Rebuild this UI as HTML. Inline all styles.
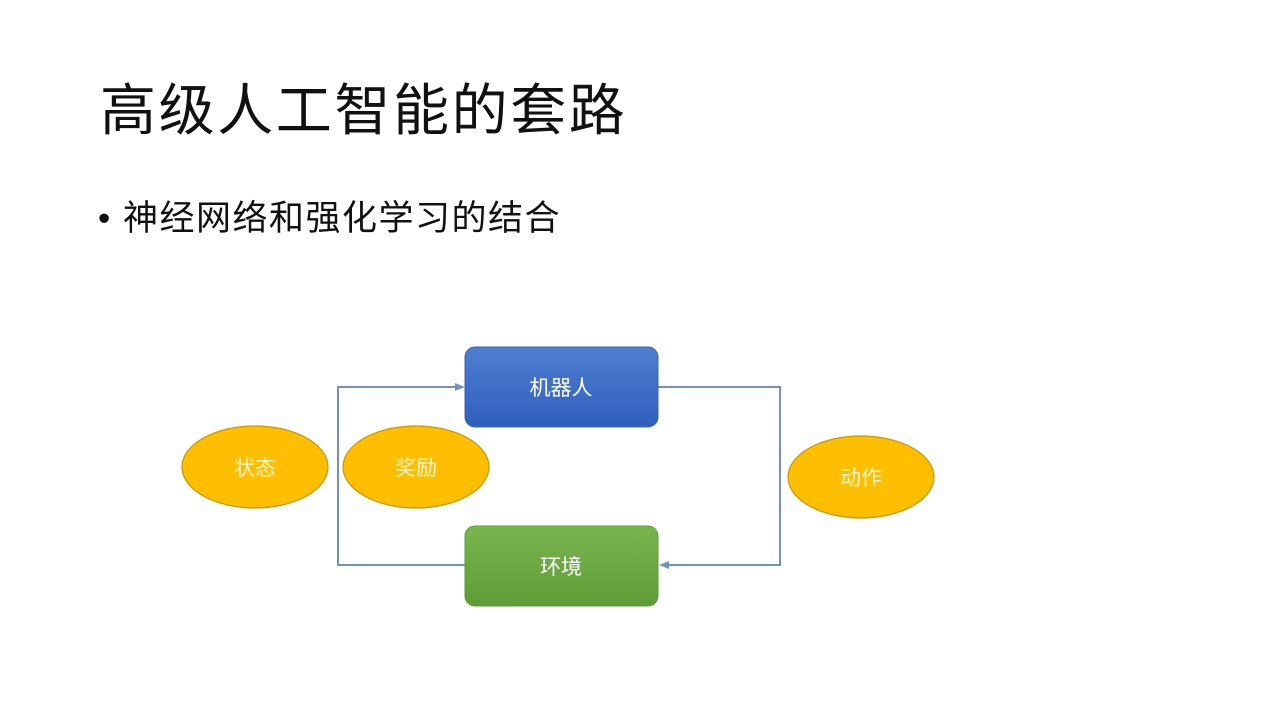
<!DOCTYPE html>
<html><head><meta charset="utf-8"><style>
body{margin:0;width:1280px;height:720px;background:#fff;overflow:hidden;position:relative;font-family:"Liberation Sans","Noto Sans CJK SC",sans-serif}
.t{position:absolute;left:100px;top:66px;font-size:56px;color:#111;white-space:nowrap;letter-spacing:2.6px;font-weight:400}
.b{position:absolute;left:98px;top:190px;font-size:35px;color:#111;white-space:nowrap;letter-spacing:1.5px;font-weight:400}
</style></head><body>
<div class="t">高级人工智能的套路</div>
<div class="b">• 神经网络和强化学习的结合</div>
<svg width="1280" height="720" style="position:absolute;left:0;top:0">
<defs>
<linearGradient id="bl" x1="0" y1="0" x2="0" y2="1"><stop offset="0" stop-color="#4f7fd0"/><stop offset="1" stop-color="#2f5fbd"/></linearGradient>
<linearGradient id="gr" x1="0" y1="0" x2="0" y2="1"><stop offset="0" stop-color="#7ab650"/><stop offset="1" stop-color="#5d9c36"/></linearGradient>
</defs>
<g fill="none" stroke="#6f94b8" stroke-width="2">
<polyline points="465,565 338,565 338,387 458,387"/>
<polyline points="658,387 780,387 780,565 666,565"/>
</g>
<polygon points="465,387 455,383 455,391" fill="#6f94b8"/>
<polygon points="659,565 669,561 669,569" fill="#6f94b8"/>
<rect x="465" y="347" width="193" height="80" rx="10" fill="url(#bl)" stroke="#3a64b0"/>
<rect x="465" y="526" width="193" height="80" rx="10" fill="url(#gr)" stroke="#5d9c36"/>
<g fill="#fdbf00" stroke="#c8960a" stroke-width="1.2">
<ellipse cx="255" cy="467" rx="73" ry="41"/>
<ellipse cx="416" cy="467" rx="73" ry="41"/>
<ellipse cx="861" cy="477" rx="73" ry="41"/>
</g>
<g fill="#fff" font-size="21" text-anchor="middle" font-family="Liberation Sans,Noto Sans CJK SC,sans-serif">
<text x="561" y="395">机器人</text>
<text x="561" y="574">环境</text>
<text x="255" y="475" fill="#fdf3c8">状态</text>
<text x="416" y="475" fill="#fdf3c8">奖励</text>
<text x="861" y="485" fill="#fdf3c8">动作</text>
</g>
</svg>
</body></html>
